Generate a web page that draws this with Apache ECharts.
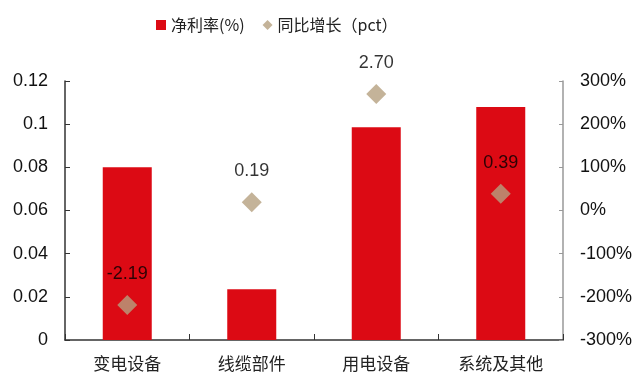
<!DOCTYPE html>
<html>
<head>
<meta charset="utf-8">
<script src="https://cdn.jsdelivr.net/npm/echarts@6/dist/echarts.min.js"></script>
<style>
  html, body { margin: 0; padding: 0; background: #fff; }
  #chart { width: 637px; height: 374px; }
</style>
</head>
<body>
<div id="chart"></div>
<script>
// 各环节净利率及同比变化
const categories = ['变电设备', '线缆部件', '用电设备', '系统及其他'];
const netMargin = [0.08, 0.0235, 0.0986, 0.108];     // 净利率
const yoyChange = [-2.19, 0.19, 2.70, 0.39];          // 同比增长(pct)，右轴按百分比显示
const leftTicks = { min: 0, max: 0.12, interval: 0.02 };
const rightTicks = { min: -3, max: 3, interval: 1 };

const numFont = 'Liberation Sans, Arial, sans-serif';
const cjkFont = 'Noto Sans CJK SC, sans-serif';

const chart = echarts.init(document.getElementById('chart'));
chart.setOption({
  animation: false,
  legend: {
    top: 12,
    left: 151,
    itemGap: 18,
    itemWidth: 10,
    itemHeight: 10,
    textStyle: { fontFamily: cjkFont, fontSize: 16, color: '#222' },
    data: [
      { name: '净利率(%)', icon: 'rect' },
      { name: '同比增长（pct）', icon: 'diamond' }
    ]
  },
  grid: { left: 65, right: 74, top: 81, bottom: 34 },
  xAxis: {
    type: 'category',
    data: categories,
    axisLine: { lineStyle: { color: '#333', width: 1.5 } },
    axisTick: { show: true, inside: true, length: 6, alignWithLabel: false, lineStyle: { color: '#333' } },
    axisLabel: { fontFamily: cjkFont, fontSize: 17, color: '#222', margin: 15 }
  },
  yAxis: [
    {
      type: 'value',
      min: leftTicks.min,
      max: leftTicks.max,
      interval: leftTicks.interval,
      axisLine: { show: true, lineStyle: { color: '#333', width: 1.5 } },
      axisTick: { show: true, inside: true, length: 5, lineStyle: { color: '#333' } },
      splitLine: { show: false },
      axisLabel: {
        fontFamily: numFont, fontSize: 18, color: '#111', margin: 17,
        formatter: v => (v === 0 ? '0' : String(+v.toFixed(2)))
      }
    },
    {
      type: 'value',
      position: 'right',
      min: rightTicks.min,
      max: rightTicks.max,
      interval: rightTicks.interval,
      axisLine: { show: true, lineStyle: { color: '#999', width: 1.5 } },
      axisTick: { show: true, inside: true, length: 4, lineStyle: { color: '#999' } },
      splitLine: { show: false },
      axisLabel: {
        fontFamily: numFont, fontSize: 18, color: '#111', margin: 17,
        formatter: v => Math.round(v * 100) + '%'
      }
    }
  ],
  series: [
    {
      name: '净利率(%)',
      type: 'bar',
      yAxisIndex: 0,
      data: netMargin,
      barWidth: 49,
      itemStyle: { color: '#DC0A14' }
    },
    {
      name: '同比增长（pct）',
      type: 'scatter',
      yAxisIndex: 1,
      data: yoyChange,
      symbol: 'diamond',
      symbolSize: 20,
      itemStyle: { color: '#B5A07F' },
      label: {
        show: true,
        position: 'top',
        distance: 12,
        fontFamily: numFont,
        fontSize: 18,
        color: '#000',
        formatter: p => p.value.toFixed(2)
      },
      z: 3
    }
  ]
});
</script>
</body>
</html>
